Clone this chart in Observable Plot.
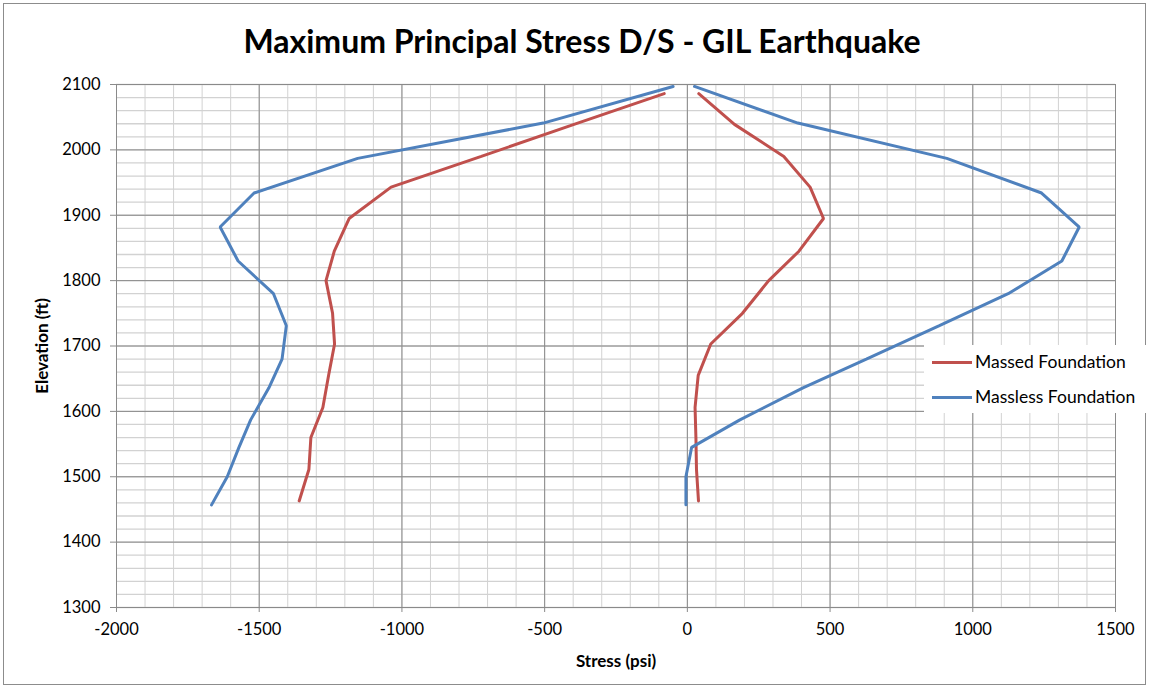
<!DOCTYPE html>
<html><head><meta charset="utf-8">
<script src="https://cdn.jsdelivr.net/npm/d3@7"></script>
<script src="https://cdn.jsdelivr.net/npm/@observablehq/plot@0.6"></script>
<style>
body{margin:0;background:#fff;}
#wrap{position:relative;width:1151px;height:690px;overflow:hidden;font-family:Lato,"Open Sans",sans-serif;}
#frame{position:absolute;left:3px;top:3px;width:1143px;height:682px;border:1px solid #8c8c8c;box-sizing:border-box;}
#title{position:absolute;left:0;top:21px;width:1164px;text-align:center;font-weight:bold;font-size:32px;line-height:40px;color:#000;}
#chart{position:absolute;left:0;top:70px;}
#legend{position:absolute;left:924px;top:345px;width:222px;height:68px;background:#fff;font-size:17.5px;color:#000;}
.li{position:absolute;left:8px;height:22px;line-height:22px;white-space:nowrap;}
.sw{display:inline-block;width:40px;height:3px;vertical-align:middle;margin-right:3px;position:relative;top:-1px;}
</style></head>
<body>
<div id="wrap">
  <div id="frame"></div>
  <div id="title"></div>
  <div id="chart"></div>
  <div id="legend"></div>
</div>
<script>
// ---- data ----
const seriesNames = ["Massed Foundation", "Massless Foundation"];
const seriesColors = ["#C0504D", "#4F81BD"];

const massedElev = [2086, 2039, 1990, 1943, 1895, 1845, 1800, 1750, 1703, 1655, 1606, 1560, 1511, 1463];
const massedMin  = [-81, -397, -722, -1038, -1185, -1237, -1266, -1243, -1236, -1257, -1277, -1319, -1326, -1360];
const massedMax  = [40, 165, 338, 430, 477, 391, 285, 193, 82, 38, 27, 30, 32, 39];

const masslessElev = [2097, 2041, 1987, 1934, 1882, 1830, 1780, 1731, 1680, 1636, 1587, 1545, 1500, 1457];
const masslessMin  = [-50, -505, -1155, -1518, -1637, -1574, -1450, -1405, -1420, -1466, -1530, -1571, -1612, -1667];
const masslessMax  = [25, 387, 909, 1241, 1373, 1312, 1124, 883, 627, 405, 184, 15, -5, -5];

const xTicks = [-2000, -1500, -1000, -500, 0, 500, 1000, 1500];
const yTicks = [1300, 1400, 1500, 1600, 1700, 1800, 1900, 2000, 2100];
const titleText = "Maximum Principal Stress D/S - GIL Earthquake";
const xLabel = "Stress (psi)";
const yLabel = "Elevation (ft)";

// ---- build table ----
const rows = [];
function add(name, elev, vals, side) {
  elev.forEach((e, i) => rows.push({series: name, key: name + side, elev: e, stress: vals[i]}));
}
add(seriesNames[0], massedElev, massedMin, "min");
add(seriesNames[0], massedElev, massedMax, "max");
add(seriesNames[1], masslessElev, masslessMin, "min");
add(seriesNames[1], masslessElev, masslessMax, "max");

const minorX = d3.range(-2000, 1501, 100);
const minorY = d3.range(1300, 2101, 20);

document.getElementById("title").textContent = titleText;

const chart = Plot.plot({
  width: 1151,
  height: 620,
  marginTop: 14,
  marginBottom: 83,
  marginLeft: 116,
  marginRight: 36,
  style: {fontFamily: "Lato, 'Open Sans', sans-serif", fontSize: "16.5px", color: "#000", background: "transparent"},
  x: {domain: [-2000, 1500]},
  y: {domain: [1300, 2100]},
  color: {domain: seriesNames, range: seriesColors},
  marks: [
    Plot.ruleX(minorX, {stroke: "#d2d2d2", strokeWidth: 1}),
    Plot.ruleY(minorY, {stroke: "#d2d2d2", strokeWidth: 1.3}),
    Plot.ruleX(xTicks, {stroke: "#8a8a8a", strokeWidth: 1}),
    Plot.ruleY(yTicks, {stroke: "#8a8a8a", strokeWidth: 1}),
    Plot.axisX({ticks: xTicks, tickFormat: d => String(d), tickSize: 5, tickPadding: 11, stroke: "#8a8a8a", fill: "#000", label: null}),
    Plot.axisY({ticks: yTicks, tickFormat: d => String(d), tickSize: 6, tickPadding: 10, stroke: "#8a8a8a", fill: "#000", label: null}),
    Plot.line(rows, {x: "stress", y: "elev", z: "key", stroke: "series", strokeWidth: 3, strokeLinejoin: "miter"}),
    Plot.text([yLabel], {text: d => d, frameAnchor: "left", textAnchor: "middle", dx: -74, rotate: -90, fontWeight: "bold", fontSize: 17, fill: "#000"}),
    Plot.text([xLabel], {text: d => d, frameAnchor: "bottom", textAnchor: "middle", lineAnchor: "middle", dy: 54, fontWeight: "bold", fontSize: 17, fill: "#000"})
  ]
});
document.getElementById("chart").appendChild(chart);

const lg = document.getElementById("legend");
seriesNames.forEach((n, i) => {
  const d = document.createElement("div");
  d.className = "li";
  d.style.top = (6 + i * 35) + "px";
  const s = document.createElement("span");
  s.className = "sw";
  s.style.background = seriesColors[i];
  d.appendChild(s);
  d.appendChild(document.createTextNode(n));
  lg.appendChild(d);
});
</script>
</body></html>
